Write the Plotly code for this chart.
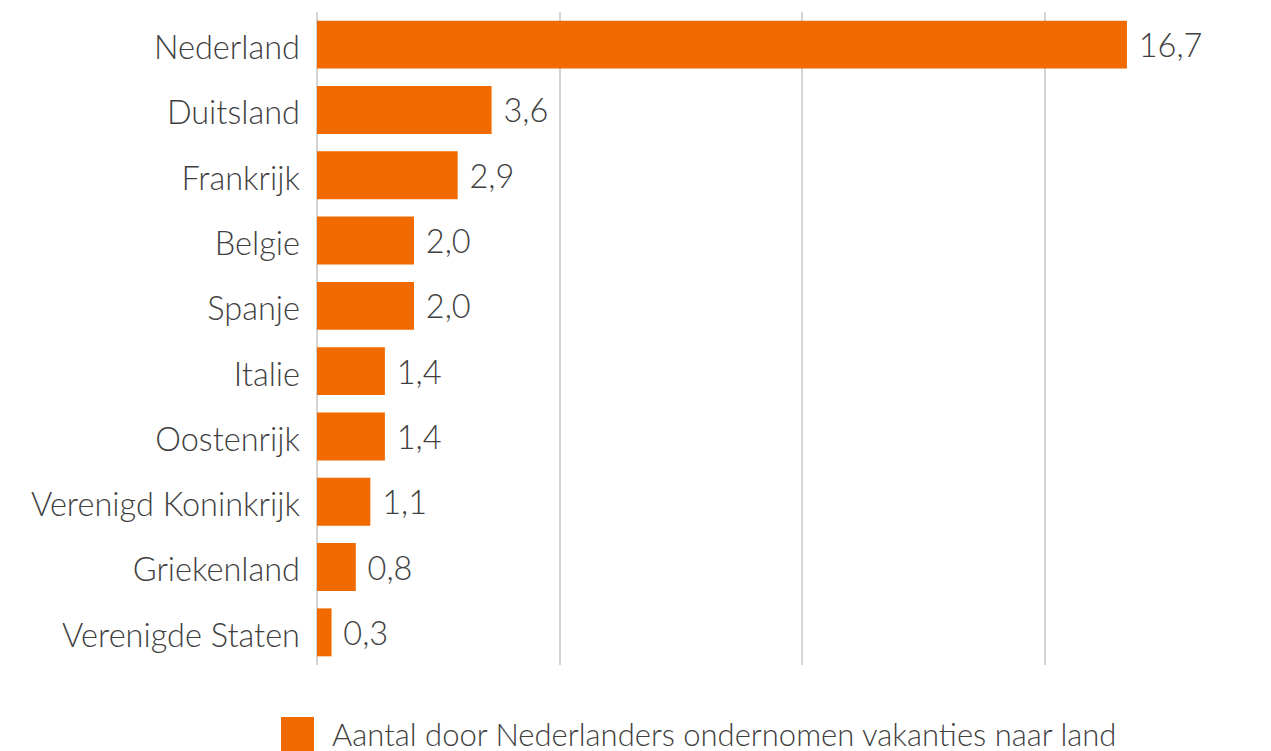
import plotly.graph_objects as go

countries = ["Nederland", "Duitsland", "Frankrijk", "Belgie", "Spanje", "Italie",
             "Oostenrijk", "Verenigd Koninkrijk", "Griekenland", "Verenigde Staten"]
values = [16.7, 3.6, 2.9, 2.0, 2.0, 1.4, 1.4, 1.1, 0.8, 0.3]
series_name = "Aantal door Nederlanders ondernomen vakanties naar land"

ORANGE = "#F06A00"
TEXT = "#404040"
GRID = "#D4D4D4"
FONT = "Lato"
FS = 31
FW = 300

fig = go.Figure()
fig.add_trace(go.Bar(
    y=countries, x=values, orientation="h",
    marker=dict(color=ORANGE, line=dict(width=0)),
    texttemplate="\u00a0%{x:.1f}", textposition="outside",
    textfont=dict(family=FONT, size=32.5, color=TEXT, weight=FW),
    cliponaxis=False, showlegend=False, name=series_name,
))

fig.update_layout(
    width=1271, height=751,
    margin=dict(l=317, r=0, t=12, b=86),
    paper_bgcolor="white", plot_bgcolor="white",
    separators=",.",
    bargap=0.266,
    font=dict(family=FONT, size=FS, color=TEXT, weight=FW),
    xaxis=dict(range=[0, 19.67], dtick=5, showticklabels=False, showgrid=True,
               gridcolor=GRID, gridwidth=1.5, zeroline=True, zerolinecolor=GRID,
               zerolinewidth=1.5, showline=False, fixedrange=True),
    yaxis=dict(autorange="reversed", categoryorder="array", categoryarray=countries,
               showgrid=False, showline=False, ticks="", ticklabelstandoff=16,
               ticklabelshift=-3,
               tickfont=dict(family=FONT, size=32.5, color=TEXT, weight=FW)),
)

# legend (drawn as shape + text), positions in paper fractions of the plot area
fig.add_shape(type="rect", xref="paper", yref="paper",
              x0=(281 - 317) / 954, x1=(314 - 317) / 954,
              y0=(665 - 751) / 653, y1=(665 - 717) / 653,
              fillcolor=ORANGE, line=dict(width=0))
fig.add_annotation(xref="paper", yref="paper", x=(330 - 317) / 954, y=(665 - 734) / 653,
                   text=series_name, showarrow=False, xanchor="left", yanchor="middle",
                   font=dict(family=FONT, size=FS, color=TEXT, weight=FW))

fig.write_html("out.html", config={"displayModeBar": False},
               post_script="document.body.style.margin='0';")
